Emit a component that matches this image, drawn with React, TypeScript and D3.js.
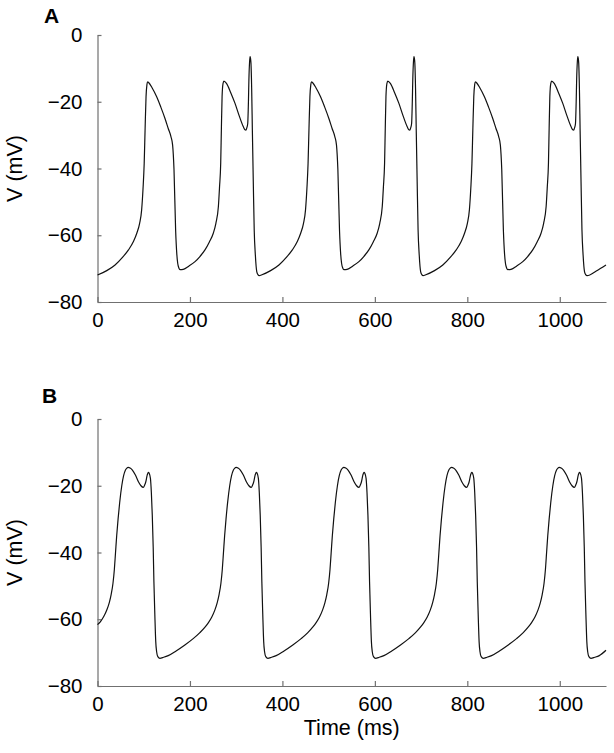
import React, {useEffect, useRef} from 'react'
import * as d3 from 'd3'

// time (ms), membrane potential (mV)
const traceA: [number, number][] = [
  [0, -71.9], [20, -70.6], [38, -68.9], [55, -66.5], [67, -64.4], [78, -61.8], [85, -59.4], [91, -56.5],
  [95.5, -52.4], [98.5, -46], [101, -38.5], [103, -28], [105, -18.5], [107, -14.8], [108.5, -14.0], [111, -14.3],
  [118, -15.8], [128, -18.5], [137, -21.6], [146, -25], [153, -28], [159, -30.5], [162.5, -33], [165.5, -40.4],
  [169, -58.4], [171.5, -65.5], [173.5, -68.4], [176, -69.8], [178.5, -70.3], [185.5, -70.2], [198, -69.2],
  [211, -67.9], [222, -66.3], [232.5, -64.4], [242, -62], [250.5, -59.4], [256, -56.5], [261.5, -51.4],
  [264, -45.5], [266.5, -38.5], [268, -28], [269.5, -18.5], [271.5, -14.6], [273.5, -13.8], [279, -14.5],
  [288, -17.2], [297.5, -20.5], [306, -24], [315.5, -27.5], [319, -28.4], [321, -28.5], [323, -27.8],
  [325, -26.5], [326.5, -20], [327.5, -13.5], [329, -8], [330, -6.5], [331, -7], [332, -8.5], [333.5, -16],
  [335, -28.5], [337, -44], [339, -58.4], [341.5, -66], [344.5, -70.9], [347, -71.8], [350, -72.1],
  [354.5, -71.9], [374.5, -70.6], [392.5, -68.9], [409.5, -66.5], [421.5, -64.4], [432.5, -61.8], [439.5, -59.4],
  [445.5, -56.5], [450, -52.4], [453, -46], [455.5, -38.5], [457.5, -28], [459.5, -18.5], [461.5, -14.8],
  [463, -14.0], [465.5, -14.3], [472.5, -15.8], [482.5, -18.5], [491.5, -21.6], [500.5, -25], [507.5, -28],
  [513.5, -30.5], [517, -33], [520, -40.4], [523.5, -58.4], [526, -65.5], [528, -68.4], [530.5, -69.8],
  [533, -70.3], [540, -70.2], [552.5, -69.2], [565.5, -67.9], [576.5, -66.3], [587, -64.4], [596.5, -62],
  [605, -59.4], [610.5, -56.5], [616, -51.4], [618.5, -45.5], [621, -38.5], [622.5, -28], [624, -18.5],
  [626, -14.6], [628, -13.8], [633.5, -14.5], [642.5, -17.2], [652, -20.5], [660.5, -24], [670, -27.5],
  [673.5, -28.4], [675.5, -28.5], [677.5, -27.8], [679.5, -26.5], [681, -20], [682, -13.5], [683.5, -8],
  [684.5, -6.5], [685.5, -7], [686.5, -8.5], [688, -16], [689.5, -28.5], [691.5, -44], [693.5, -58.4],
  [696, -66], [699, -70.9], [701.5, -71.8], [704.5, -72.1],
  [709, -71.9], [729, -70.6], [747, -68.9], [764, -66.5], [776, -64.4], [787, -61.8], [794, -59.4], [800, -56.5],
  [804.5, -52.4], [807.5, -46], [810, -38.5], [812, -28], [814, -18.5], [816, -14.8], [817.5, -14.0], [820, -14.3],
  [827, -15.8], [837, -18.5], [846, -21.6], [855, -25], [862, -28], [868, -30.5], [871.5, -33], [874.5, -40.4],
  [878, -58.4], [880.5, -65.5], [882.5, -68.4], [885, -69.8], [887.5, -70.3], [894.5, -70.2], [907, -69.2],
  [920, -67.9], [931, -66.3], [941.5, -64.4], [951, -62], [959.5, -59.4], [965, -56.5], [970.5, -51.4],
  [973, -45.5], [975.5, -38.5], [977, -28], [978.5, -18.5], [980.5, -14.6], [982.5, -13.8], [988, -14.5],
  [997, -17.2], [1006.5, -20.5], [1015, -24], [1024.5, -27.5], [1028, -28.4], [1030, -28.5], [1032, -27.8],
  [1034, -26.5], [1035.5, -20], [1036.5, -13.5], [1038, -8], [1039, -6.5], [1040, -7], [1041, -8.5],
  [1042.5, -16], [1044, -28.5], [1046, -44], [1048, -58.4], [1050.5, -66], [1053.5, -70.9], [1056, -71.8],
  [1059, -72.1], [1079, -70.7], [1100, -68.9],
]

// panel B
const traceB: [number, number][] = [
  [0, -61.6], [6.5, -60.7], [13.5, -59.2], [20.5, -57.1], [25.5, -55], [29.5, -52.6], [33.5, -49.2], [36.5, -45],
  [39, -40], [41.5, -35], [44.5, -30], [48, -25], [52.5, -20], [56.5, -17], [60.5, -15.3], [63.5, -14.7],
  [66.5, -14.5], [70.5, -14.7], [75.5, -15.3], [82, -16.8], [88.5, -18.8], [94, -20], [99, -20.5], [102, -19.8],
  [104.5, -18.8], [107.5, -16.8], [110, -16], [112, -16.3], [114.5, -17.8], [116.5, -22], [118.5, -28.8],
  [120.5, -38.5], [122, -48.7], [124, -58.5], [126, -66.7], [128, -69.8], [130.5, -71.2], [135, -71.7],
  [143, -71.4], [153, -70.9], [170, -69.5], [189, -67.7], [207, -65.8], [221.5, -64],
  [233, -62.3], [240, -61], [247, -59.4], [254, -57.2], [259, -55], [263, -52.6], [267, -49.2], [270, -45],
  [272.5, -40], [275, -35], [278, -30], [281.5, -25], [286, -20], [290, -17], [294, -15.3], [297, -14.7],
  [300, -14.5], [304, -14.7], [309, -15.3], [315.5, -16.8], [322, -18.8], [327.5, -20], [332.5, -20.5],
  [335.5, -19.8], [338, -18.8], [341, -16.8], [343.5, -16], [345.5, -16.3], [348, -17.8], [350, -22],
  [352, -28.8], [354, -38.5], [355.5, -48.7], [357.5, -58.5], [359.5, -66.7], [361.5, -69.8], [364, -71.2],
  [368.5, -71.7], [376.5, -71.4], [386.5, -70.9], [403.5, -69.5], [422.5, -67.7], [440.5, -65.8], [455, -64],
  [466, -62.3], [473, -61], [480, -59.4], [487, -57.2], [492, -55], [496, -52.6], [500, -49.2], [503, -45],
  [505.5, -40], [508, -35], [511, -30], [514.5, -25], [519, -20], [523, -17], [527, -15.3], [530, -14.7],
  [533, -14.5], [537, -14.7], [542, -15.3], [548.5, -16.8], [555, -18.8], [560.5, -20], [565.5, -20.5],
  [568.5, -19.8], [571, -18.8], [574, -16.8], [576.5, -16], [578.5, -16.3], [581, -17.8], [583, -22],
  [585, -28.8], [587, -38.5], [588.5, -48.7], [590.5, -58.5], [592.5, -66.7], [594.5, -69.8], [597, -71.2],
  [601.5, -71.7], [609.5, -71.4], [619.5, -70.9], [636.5, -69.5], [655.5, -67.7], [673.5, -65.8], [688, -64],
  [699, -62.3], [706, -61], [713, -59.4], [720, -57.2], [725, -55], [729, -52.6], [733, -49.2], [736, -45],
  [738.5, -40], [741, -35], [744, -30], [747.5, -25], [752, -20], [756, -17], [760, -15.3], [763, -14.7],
  [766, -14.5], [770, -14.7], [775, -15.3], [781.5, -16.8], [788, -18.8], [793.5, -20], [798.5, -20.5],
  [801.5, -19.8], [804, -18.8], [807, -16.8], [809.5, -16], [811.5, -16.3], [814, -17.8], [816, -22],
  [818, -28.8], [820, -38.5], [821.5, -48.7], [823.5, -58.5], [825.5, -66.7], [827.5, -69.8], [830, -71.2],
  [834.5, -71.7], [842.5, -71.4], [852.5, -70.9], [869.5, -69.5], [888.5, -67.7], [906.5, -65.8], [921, -64],
  [932, -62.3], [939, -61], [946, -59.4], [953, -57.2], [958, -55], [962, -52.6], [966, -49.2], [969, -45],
  [971.5, -40], [974, -35], [977, -30], [980.5, -25], [985, -20], [989, -17], [993, -15.3], [996, -14.7],
  [999, -14.5], [1003, -14.7], [1008, -15.3], [1014.5, -16.8], [1021, -18.8], [1026.5, -20], [1031.5, -20.5],
  [1034.5, -19.8], [1037, -18.8], [1040, -16.8], [1042.5, -16], [1044.5, -16.3], [1047, -17.8], [1049, -22],
  [1051, -28.8], [1053, -38.5], [1054.5, -48.7], [1056.5, -58.5], [1058.5, -66.7], [1060.5, -69.8],
  [1063, -71.2], [1067.5, -71.7], [1075.5, -71.4], [1085.5, -70.9], [1100, -69.3],
]

const timeTicks = [0, 200, 400, 600, 800, 1000]
const voltTicks = [0, -20, -40, -60, -80]
const panels = [
  {letter: 'A', data: traceA, top: 35, bottom: 302, letterX: 44, letterY: 23},
  {letter: 'B', data: traceB, top: 419, bottom: 686, letterX: 42, letterY: 403},
]

const FONT = 'Liberation Sans, Arial, Helvetica, sans-serif'
const AXIS_COLOR = '#707070'

const x = d3.scaleLinear().domain([0, 1100]).range([97.5, 606])

function Panel({letter, data, top, bottom, letterX, letterY}) {
  const xRef = useRef(null)
  const yRef = useRef(null)
  const y = d3.scaleLinear().domain([-80, 0]).range([bottom, top])

  useEffect(() => {
    const style = g => {
      g.select('.domain').attr('stroke', AXIS_COLOR).attr('stroke-width', 1.2)
      g.selectAll('.tick line').attr('stroke', AXIS_COLOR).attr('stroke-width', 1.2)
      g.selectAll('.tick text').attr('fill', '#000').style('font-size', '20.5px').style('font-family', FONT)
    }
    d3.select(xRef.current)
      .call(d3.axisBottom(x).tickValues(timeTicks).tickFormat(d3.format('d'))
        .tickSizeInner(-5).tickSizeOuter(0).tickPadding(10.5))
      .call(style)
    d3.select(yRef.current)
      .call(d3.axisLeft(y).tickValues(voltTicks).tickFormat(d3.format('d'))
        .tickSizeInner(-4).tickSizeOuter(0).tickPadding(15))
      .call(style)
  }, [])

  const line = d3.line().x(d => x(d[0])).y(d => y(d[1])).curve(d3.curveMonotoneX)

  return <g>
    <text x={letterX} y={letterY} fontFamily={FONT} fontWeight="bold" fontSize={21}>{letter}</text>
    <text transform={`translate(22,${(top + bottom) / 2}) rotate(-90)`} textAnchor="middle"
      fontFamily={FONT} fontSize={21.5}>V (mV)</text>
    <g ref={xRef} transform={`translate(0,${bottom})`} />
    <g ref={yRef} transform={`translate(${x(0)},0)`} />
    <path d={line(data)} fill="none" stroke="#111" strokeWidth={1.2} />
  </g>
}

export default function App() {
  return <svg width={614} height={753} style={{position: 'absolute', left: 0, top: 0, background: '#fff'}}>
    {panels.map(p => <Panel key={p.letter} {...p} />)}
    <text x={(x(0) + x(1100)) / 2} y={735} textAnchor="middle" fontFamily={FONT} fontSize={21.5}>Time (ms)</text>
  </svg>
}
